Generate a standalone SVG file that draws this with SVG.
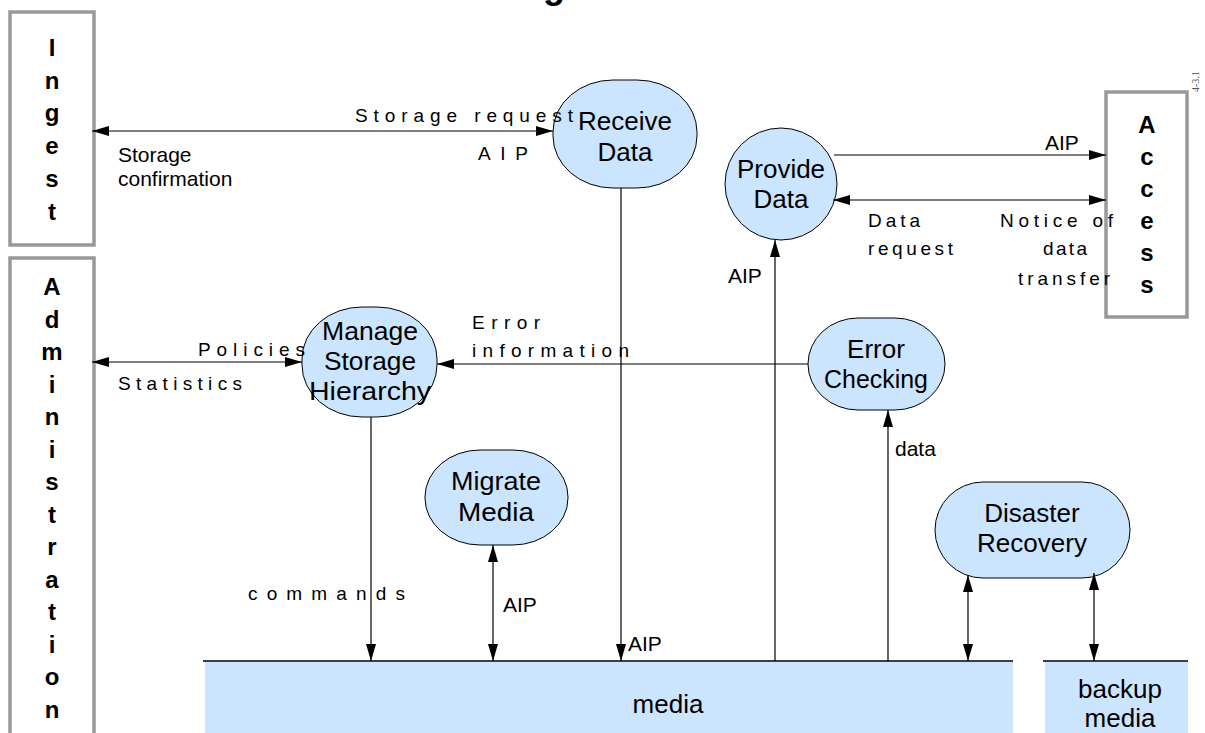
<svg xmlns="http://www.w3.org/2000/svg" width="1205" height="733" viewBox="0 0 1205 733">
  <defs>
    <marker id="arrow" markerUnits="userSpaceOnUse" markerWidth="18" markerHeight="12" refX="17" refY="5" orient="auto-start-reverse">
      <path d="M0,0 L17,5 L0,10 Z" fill="#000"/>
    </marker>
    <style>
      .ext { fill: #fff; stroke: #999; stroke-width: 3.5; }
      .ext-t { font-family: "Liberation Sans", Arial, sans-serif; font-weight: bold; font-size: 24px; text-anchor: middle; fill: #000; }
      .proc { fill: #cce5ff; stroke: #000; stroke-width: 1; }
      .proc-t { font-family: "Liberation Sans", Arial, sans-serif; font-size: 26px; text-anchor: middle; fill: #000; }
      .store { fill: #cce5ff; }
      .store-line { stroke: #000; stroke-width: 1.5; }
      .flow { fill: none; stroke: #000; stroke-width: 1.2; }
      .lbl { font-family: "Liberation Sans", Arial, sans-serif; font-size: 21px; fill: #000; }
      .sp { font-family: "Liberation Sans", Arial, sans-serif; font-size: 19px; fill: #000; }
    </style>
  </defs>

  <rect width="1205" height="733" fill="#fff"/>

  <!-- page title, running off the top edge -->
  <text x="585" y="-2" font-family="Liberation Sans, Arial, sans-serif" font-weight="bold" font-size="36" text-anchor="end">Archival Storage</text>

  <!-- figure number -->
  <text transform="translate(1199,92) rotate(-90)" font-family="Liberation Serif, serif" font-size="10" fill="#555">4-3.1</text>

  <!-- external entities -->
  <g id="ingest">
    <rect class="ext" x="10" y="12" width="84" height="233"/>
    <text class="ext-t" x="52" y="56">I</text>
    <text class="ext-t" x="52" y="89">n</text>
    <text class="ext-t" x="52" y="121">g</text>
    <text class="ext-t" x="52" y="154">e</text>
    <text class="ext-t" x="52" y="187">s</text>
    <text class="ext-t" x="52" y="220">t</text>
  </g>

  <g id="administration">
    <rect class="ext" x="10" y="258" width="84" height="490"/>
    <text class="ext-t" x="52" y="295">A</text>
    <text class="ext-t" x="52" y="327.5">d</text>
    <text class="ext-t" x="52" y="360">m</text>
    <text class="ext-t" x="52" y="392.5">i</text>
    <text class="ext-t" x="52" y="425">n</text>
    <text class="ext-t" x="52" y="457.5">i</text>
    <text class="ext-t" x="52" y="490">s</text>
    <text class="ext-t" x="52" y="522.5">t</text>
    <text class="ext-t" x="52" y="555">r</text>
    <text class="ext-t" x="52" y="587.5">a</text>
    <text class="ext-t" x="52" y="620">t</text>
    <text class="ext-t" x="52" y="652.5">i</text>
    <text class="ext-t" x="52" y="685">o</text>
    <text class="ext-t" x="52" y="717.5">n</text>
  </g>

  <g id="access">
    <rect class="ext" x="1106" y="92" width="81" height="225"/>
    <text class="ext-t" x="1147" y="133">A</text>
    <text class="ext-t" x="1147" y="165">c</text>
    <text class="ext-t" x="1147" y="197">c</text>
    <text class="ext-t" x="1147" y="229">e</text>
    <text class="ext-t" x="1147" y="261">s</text>
    <text class="ext-t" x="1147" y="293">s</text>
  </g>

  <!-- data stores -->
  <g id="media">
    <rect class="store" x="205" y="662" width="808" height="71"/>
    <line class="store-line" x1="203" y1="661" x2="1013" y2="661"/>
    <text class="proc-t" x="668" y="713">media</text>
  </g>
  <g id="backup-media">
    <rect class="store" x="1045" y="662" width="143" height="71"/>
    <line class="store-line" x1="1043" y1="661" x2="1188" y2="661"/>
    <text class="proc-t" x="1120" y="698" font-size="24">backup</text>
    <text class="proc-t" x="1120" y="727" font-size="24">media</text>
  </g>

  <!-- processes -->
  <g id="receive-data">
    <rect class="proc" x="553" y="80" width="144" height="108" rx="60" ry="52"/>
    <text class="proc-t" x="625" y="130">Receive</text>
    <text class="proc-t" x="625" y="161">Data</text>
  </g>
  <g id="provide-data">
    <rect class="proc" x="725" y="128" width="112" height="112" rx="56" ry="56"/>
    <text class="proc-t" x="781" y="178">Provide</text>
    <text class="proc-t" x="781" y="208">Data</text>
  </g>
  <g id="manage-storage-hierarchy">
    <rect class="proc" x="302" y="307" width="135" height="110" rx="60" ry="52"/>
    <text class="proc-t" x="370" y="340" textLength="96" lengthAdjust="spacingAndGlyphs">Manage</text>
    <text class="proc-t" x="370" y="370" textLength="92" lengthAdjust="spacingAndGlyphs">Storage</text>
    <text class="proc-t" x="370" y="400" textLength="122" lengthAdjust="spacingAndGlyphs">Hierarchy</text>
  </g>
  <g id="error-checking">
    <rect class="proc" x="808" y="318" width="137" height="92" rx="50" ry="46"/>
    <text class="proc-t" x="876" y="358">Error</text>
    <text class="proc-t" x="876" y="388" textLength="104" lengthAdjust="spacingAndGlyphs">Checking</text>
  </g>
  <g id="migrate-media">
    <rect class="proc" x="425" y="450" width="143" height="95" rx="55" ry="47"/>
    <text class="proc-t" x="496" y="490" textLength="90" lengthAdjust="spacingAndGlyphs">Migrate</text>
    <text class="proc-t" x="496" y="521" textLength="76" lengthAdjust="spacingAndGlyphs">Media</text>
  </g>
  <g id="disaster-recovery">
    <rect class="proc" x="935" y="482" width="195" height="96" rx="48" ry="48"/>
    <text class="proc-t" x="1032" y="522">Disaster</text>
    <text class="proc-t" x="1032" y="552">Recovery</text>
  </g>

  <!-- connectors and their labels -->
  <g id="connectors">
    <line class="flow" x1="92" y1="131" x2="553" y2="131" marker-start="url(#arrow)" marker-end="url(#arrow)"/>
    <line class="flow" x1="621" y1="188" x2="621" y2="661" marker-end="url(#arrow)"/>
    <line class="flow" x1="775" y1="661" x2="775" y2="240" marker-end="url(#arrow)"/>
    <line class="flow" x1="834" y1="155" x2="1106" y2="155" marker-end="url(#arrow)"/>
    <line class="flow" x1="833" y1="200" x2="1106" y2="200" marker-start="url(#arrow)" marker-end="url(#arrow)"/>
    <line class="flow" x1="92" y1="362" x2="302" y2="362" marker-start="url(#arrow)" marker-end="url(#arrow)"/>
    <line class="flow" x1="808" y1="364" x2="437" y2="364" marker-end="url(#arrow)"/>
    <line class="flow" x1="371" y1="417" x2="371" y2="661" marker-end="url(#arrow)"/>
    <line class="flow" x1="493" y1="545" x2="493" y2="661" marker-start="url(#arrow)" marker-end="url(#arrow)"/>
    <line class="flow" x1="888" y1="661" x2="888" y2="410" marker-end="url(#arrow)"/>
    <line class="flow" x1="968" y1="575" x2="968" y2="661" marker-start="url(#arrow)" marker-end="url(#arrow)"/>
    <line class="flow" x1="1094" y1="573" x2="1094" y2="661" marker-start="url(#arrow)" marker-end="url(#arrow)"/>

    <text class="sp" x="355" y="122" textLength="218" lengthAdjust="spacing">Storage request</text>
    <text class="sp" x="478" y="160" textLength="50" lengthAdjust="spacing">AIP</text>
    <text class="lbl" x="118" y="162">Storage</text>
    <text class="lbl" x="118" y="186">confirmation</text>
    <text class="lbl" x="628" y="651">AIP</text>
    <text class="lbl" x="728" y="283">AIP</text>
    <text class="lbl" x="1045" y="150">AIP</text>
    <text class="sp" x="868" y="227" textLength="52" lengthAdjust="spacing">Data</text>
    <text class="sp" x="868" y="255" textLength="85" lengthAdjust="spacing">request</text>
    <text class="sp" x="1000" y="227" textLength="113" lengthAdjust="spacing">Notice of</text>
    <text class="sp" x="1043" y="255" textLength="44" lengthAdjust="spacing">data</text>
    <text class="sp" x="1018" y="285" textLength="92" lengthAdjust="spacing">transfer</text>
    <text class="sp" x="198" y="356" textLength="107" lengthAdjust="spacing">Policies</text>
    <text class="sp" x="118" y="390" textLength="124" lengthAdjust="spacing">Statistics</text>
    <text class="sp" x="472" y="329" textLength="68" lengthAdjust="spacing">Error</text>
    <text class="sp" x="472" y="357" textLength="157" lengthAdjust="spacing">information</text>
    <text class="sp" x="248" y="600" textLength="157" lengthAdjust="spacing">commands</text>
    <text class="lbl" x="503" y="612">AIP</text>
    <text class="lbl" x="895" y="456">data</text>
  </g>
</svg>
